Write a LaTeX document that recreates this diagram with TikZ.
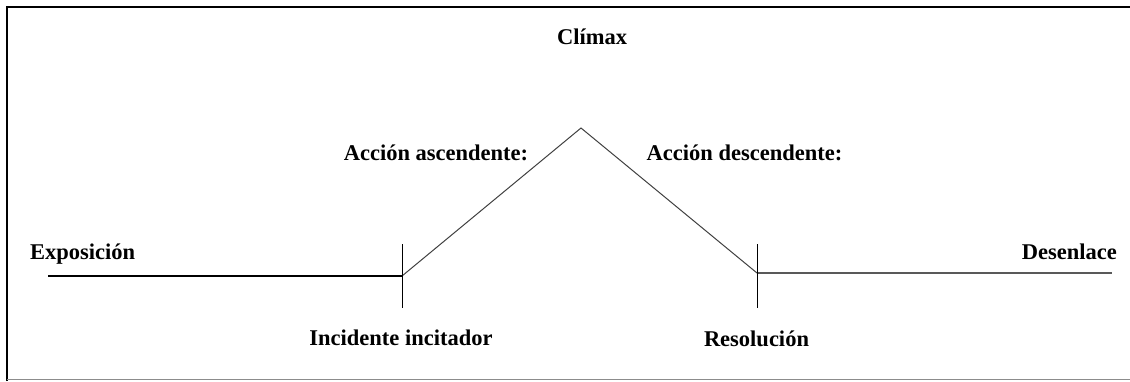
\documentclass[tikz,border=0pt]{standalone}
\usepackage{fontspec}
\setmainfont{Liberation Serif}
\usepackage{tikz}
\tikzstyle{etiqueta}=[font=\bfseries\fontsize{22.5}{27}\selectfont, inner sep=0pt, anchor=base]
\tikzstyle{trazo}=[line width=1pt, draw=black!75]
\tikzstyle{marca}=[line width=1pt, draw=black]
\newcommand{\etiqueta}{\node[etiqueta]}

\begin{document}
\begin{tikzpicture}[x=1pt,y=-1pt]
	\useasboundingbox (0,0) rectangle (1130,381);
	% marco
	\draw[line width=2pt] (7,381) -- (7,7) -- (1130,7);
	\draw[line width=1pt, black!45] (7,379.5) -- (1130,379.5);
	% puntos del arco narrativo
	\coordinate (inicio) at (48,276);
	\coordinate (incidente) at (402,276);
	\coordinate (cima) at (581,128);
	\coordinate (resolucion) at (757,273);
	\coordinate (fin) at (1112,273);
	\coordinate (incidenteA) at (402,244);
	\coordinate (incidenteB) at (402,308);
	\coordinate (resolucionA) at (757,244);
	\coordinate (resolucionB) at (757,308);
	\draw[trazo, line width=1.5pt, draw=black] (inicio) -- (incidente);
	\draw[trazo] (incidente) -- (cima) -- (resolucion);
	\draw[trazo, line width=1.5pt, draw=black!65] (resolucion) -- (fin);
	\draw[marca] (incidenteA) -- (incidenteB);
	\draw[marca] (resolucionA) -- (resolucionB);
	% textos
	\etiqueta (climax) at (592,44) {Clímax};
	\etiqueta (asc) at (436,160) {Acción ascendente:};
	\etiqueta (desc) at (744.5,160) {Acción descendente:};
	\etiqueta[anchor=base west] (expo) at (30,259) {Exposición};
	\etiqueta[anchor=base east] (desen) at (1117,259) {Desenlace};
	\etiqueta (incit) at (401,345) {Incidente incitador};
	\etiqueta (resol) at (756.5,346) {Resolución};
\end{tikzpicture}
\end{document}
